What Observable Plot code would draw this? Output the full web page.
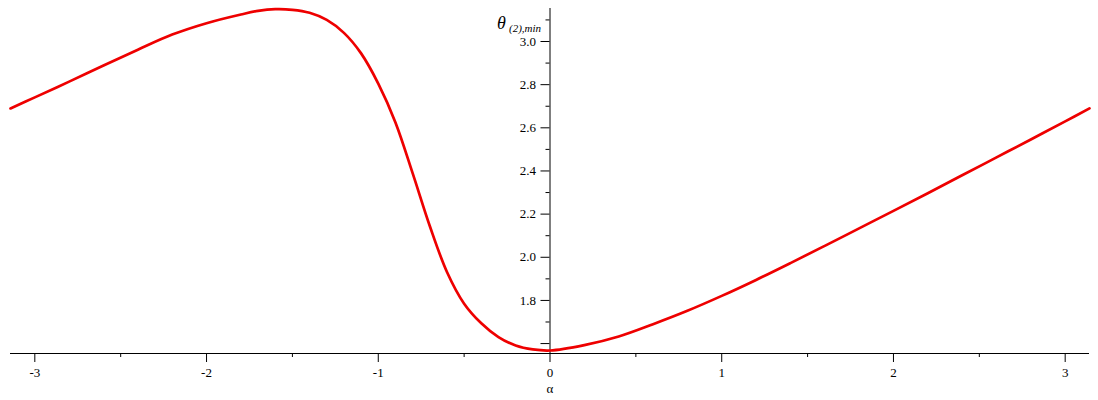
<!DOCTYPE html>
<html>
<head>
<meta charset="utf-8">
<script src="https://cdn.jsdelivr.net/npm/d3@7"></script>
<script src="https://cdn.jsdelivr.net/npm/@observablehq/plot@0.6"></script>
<style>
  html, body { margin: 0; padding: 0; background: #fff; }
  #chart svg { display: block; }
  #chart svg, #chart svg text { font-family: "Liberation Serif", "DejaVu Serif", serif !important; }
</style>
</head>
<body>
<div id="chart"></div>
<script>
const alpha = [-3.1416, -3.0, -2.8, -2.6, -2.4, -2.2, -2.0, -1.8, -1.7, -1.6, -1.5, -1.4, -1.3, -1.2, -1.1, -1.0, -0.9, -0.8, -0.7, -0.6, -0.5, -0.4, -0.3, -0.2, -0.1, 0.0, 0.2, 0.4, 0.6, 0.8, 1.0, 1.2, 1.4, 1.6, 1.8, 2.0, 2.2, 2.4, 2.6, 2.8, 3.0, 3.1416];
const theta = [2.690, 2.741, 2.814, 2.889, 2.962, 3.032, 3.085, 3.125, 3.142, 3.150, 3.147, 3.133, 3.100, 3.040, 2.945, 2.805, 2.625, 2.390, 2.145, 1.932, 1.785, 1.694, 1.630, 1.591, 1.573, 1.568, 1.593, 1.633, 1.690, 1.752, 1.821, 1.895, 1.973, 2.053, 2.134, 2.215, 2.297, 2.380, 2.463, 2.546, 2.630, 2.690];

const xMajor = [-3, -2, -1, 0, 1, 2, 3];
const xMinor = [-2.5, -1.5, -0.5, 0.5, 1.5, 2.5];
const yMajor = [1.6, 1.8, 2.0, 2.2, 2.4, 2.6, 2.8, 3.0];
const yLabelled = [1.8, 2.0, 2.2, 2.4, 2.6, 2.8, 3.0];
const yMinor = [1.7, 1.9, 2.1, 2.3, 2.5, 2.7, 2.9, 3.1];

const xDomain = [-Math.PI, Math.PI];
const yDomain = [1.554, 3.153];

const data = alpha.map((a, i) => ({a, t: theta[i]}));

const font = "Liberation Serif";

const chart = Plot.plot({
  width: 1098,
  height: 400,
  marginLeft: 10,
  marginRight: 9,
  marginTop: 8,
  marginBottom: 47,
  style: {fontSize: "12px", background: "#fff", color: "#000", fontFamily: font},
  x: {domain: xDomain},
  y: {domain: yDomain},
  marks: [
    Plot.ruleY([yDomain[0]], {stroke: "#000", strokeWidth: 1}),
    Plot.ruleX([0], {stroke: "#000", strokeWidth: 1}),
    Plot.axisX({ticks: xMajor, tickSize: 9, tickPadding: 5, tickFormat: d => String(d), label: "α", labelAnchor: "center", labelArrow: "none", labelOffset: 39, fontSize: 13, fontFamily: font}),
    Plot.axisX({ticks: xMinor, tickSize: 4, text: null, label: null}),
    Plot.axisY({x: 0, ticks: yMajor, tickSize: 9, tickPadding: 5, tickFormat: d => yLabelled.includes(d) ? d.toFixed(1) : "", label: null, fontSize: 13, fontFamily: font}),
    Plot.axisY({x: 0, ticks: yMinor, tickSize: 4, text: null, label: null}),
    Plot.line(data, {x: "a", y: "t", stroke: "#ee0000", strokeWidth: 2.7, curve: "catmull-rom"}),
    Plot.text(["θ"], {x: 0, frameAnchor: "top", dx: -53, dy: 8, fontSize: 18, fontStyle: "italic", textAnchor: "start", fontFamily: font}),
    Plot.text(["(2),min"], {x: 0, frameAnchor: "top", dx: -41, dy: 16, fontSize: 11, fontStyle: "italic", textAnchor: "start", fontFamily: font})
  ]
});
document.getElementById("chart").appendChild(chart);
</script>
</body>
</html>
